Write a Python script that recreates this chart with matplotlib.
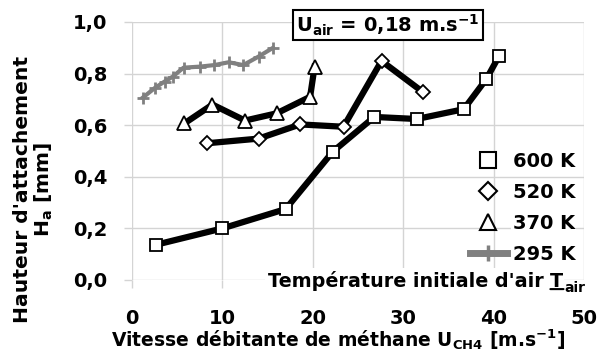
import matplotlib
matplotlib.use("Agg")
import matplotlib.pyplot as plt
from matplotlib.lines import Line2D

plt.rcParams['font.family'] = ['DejaVu Sans']
plt.rcParams['font.weight'] = 'bold'
plt.rcParams['mathtext.fontset'] = 'dejavusans'

# 600 K
x600 = [2.7, 10.0, 17.0, 22.2, 26.8, 31.5, 36.7, 39.2, 40.6]
y600 = [0.137, 0.20, 0.275, 0.497, 0.632, 0.624, 0.662, 0.779, 0.868]
# 520 K
x520 = [8.3, 14.0, 18.6, 23.4, 27.6, 32.2]
y520 = [0.530, 0.548, 0.603, 0.594, 0.849, 0.728]
# 370 K
x370 = [5.8, 8.9, 12.5, 16.0, 19.7, 20.2]
y370 = [0.607, 0.680, 0.618, 0.646, 0.710, 0.827]
# 295 K
x295 = [1.2, 2.55, 3.6, 4.5, 5.7, 7.5, 9.1, 10.7, 12.3, 14.0, 15.6]
y295 = [0.707, 0.745, 0.769, 0.788, 0.823, 0.827, 0.833, 0.844, 0.833, 0.866, 0.90]

xticks = [0, 10, 20, 30, 40, 50]
yticks = [0.0, 0.2, 0.4, 0.6, 0.8, 1.0]
ytick_labels = ["0,0", "0,2", "0,4", "0,6", "0,8", "1,0"]
labels = ["600 K", "520 K", "370 K", "295 K"]

W, H = 598, 362
fig = plt.figure(figsize=(W / 100, H / 100), dpi=100)
ax = fig.add_axes([132 / W, 1 - 280 / H, 452 / W, 258 / H])

gridc = '#d4d4d4'
ax.plot(x295, y295, color='#808080', lw=3, marker='+', ms=9, mew=2, zorder=3)
ax.plot(x370, y370, color='black', lw=4.5, marker='^', ms=10, mfc='white',
        mec='black', mew=1.3, zorder=4)
ax.plot(x520, y520, color='black', lw=4.5, marker='D', ms=7.5, mfc='white',
        mec='black', mew=1.3, zorder=4)
ax.plot(x600, y600, color='black', lw=4.5, marker='s', ms=9, mfc='white',
        mec='black', mew=1.3, zorder=5)

ax.set_xlim(0, 50)
ax.set_ylim(0, 1.0)
ax.set_xticks(xticks)
ax.set_yticks(yticks)
ax.set_yticklabels(ytick_labels)
ax.grid(True, color=gridc, lw=1)
ax.set_axisbelow(True)
for s in ax.spines.values():
    s.set_visible(False)
ax.tick_params(axis='both', colors=gridc, length=6, width=1, labelcolor='black',
               labelsize=14)
ax.tick_params(axis='x', pad=15)
ax.tick_params(axis='y', pad=12)

# handles for legend
hs = [Line2D([], [], ls='none', marker='s', ms=11, mfc='white', mec='black', mew=1.5),
      Line2D([], [], ls='none', marker='D', ms=9, mfc='white', mec='black', mew=1.5),
      Line2D([], [], ls='none', marker='^', ms=12, mfc='white', mec='black', mew=1.5),
      Line2D([], [], color='#808080', lw=5, marker='+', ms=11, mew=2.5)]
leg = ax.legend(hs, labels, loc='upper left', bbox_to_anchor=(470 / W, 1 - 152 / H),
                bbox_transform=fig.transFigure, frameon=False, fontsize=14,
                handlelength=1.9, handletextpad=0.3, labelspacing=0.62,
                borderpad=0, borderaxespad=0)
for t in leg.get_texts():
    t.set_bbox(dict(facecolor='white', edgecolor='none', pad=1))

# legend title text
t1 = ax.text(268 / W, 1 - 287 / H, "Température initiale d'air ", fontsize=13.8,
             transform=fig.transFigure, va='baseline', ha='left', zorder=6,
             clip_on=False, bbox=dict(facecolor='white', edgecolor='none', pad=2))
tT = ax.annotate("T", xy=(1, 0), xycoords=t1, va='bottom', ha='left', fontsize=13.8,
                 zorder=8, annotation_clip=False,
                 bbox=dict(facecolor='white', edgecolor='none', pad=0.5))
ax.annotate("air", xy=(1, 0), xycoords=tT, xytext=(0.5, -3), textcoords='offset points',
            va='bottom', ha='left', fontsize=10, zorder=7, annotation_clip=False,
            bbox=dict(facecolor='white', edgecolor='none', pad=0.5))
ax.annotate("", xy=(0, 0.1), xycoords=tT, xytext=(1, 0.1), textcoords=tT, zorder=9,
            annotation_clip=False,
            arrowprops=dict(arrowstyle='-', lw=1.5, color='black', shrinkA=0, shrinkB=0))

# U_air box
fig.text(388 / W, 1 - 25 / H, r"U$_\mathbf{air}$ = 0,18 m.s$^\mathbf{-1}$", fontsize=14,
         ha='center', va='center',
         bbox=dict(facecolor='white', edgecolor='black', lw=1.5, pad=2))

fig.text(338 / W, 1 - 347 / H, r"Vitesse débitante de méthane U$_\mathbf{CH4}$ [m.s$^\mathbf{-1}$]",
         fontsize=13.5, ha='center', va='baseline')
fig.text(34 / W, 1 - 189 / H, "Hauteur d'attachement\n" + r"H$_\mathbf{a}$ [mm]",
         fontsize=14.6, rotation=90, ha='center', va='center', multialignment='center',
         linespacing=1.05)

fig.savefig("out.png", dpi=100)
